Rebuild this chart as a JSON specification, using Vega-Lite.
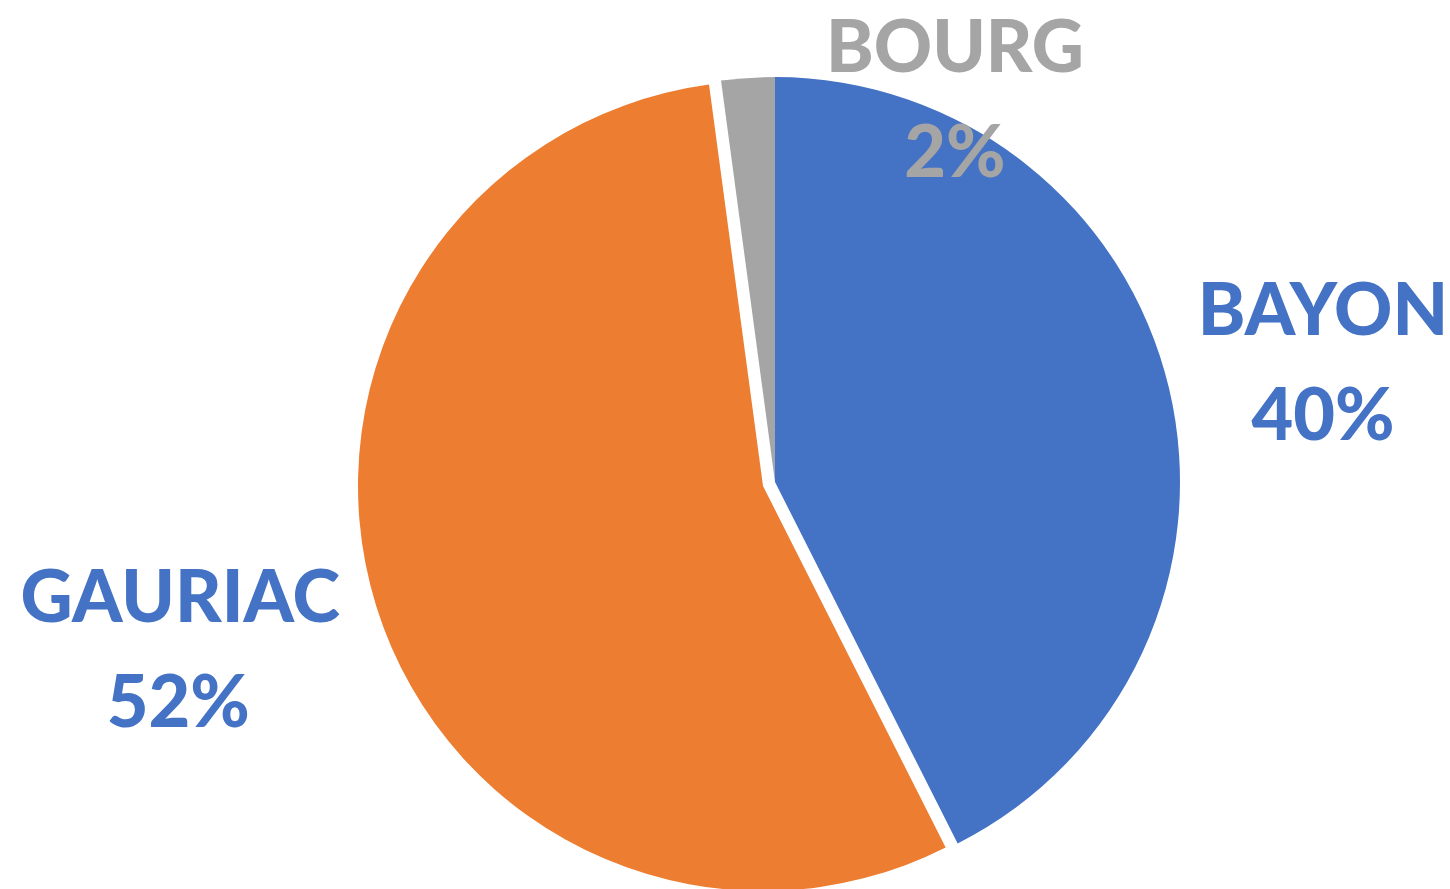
{
  "$schema": "https://vega.github.io/schema/vega-lite/v6.json",
  "width": 1350,
  "height": 810,
  "autosize": {"type": "none"},
  "padding": {"left": 100, "top": 77, "right": 0, "bottom": 2},
  "background": "white",
  "config": {"view": {"stroke": null}},
  "data": {"values": [
    {"name": "BAYON", "value": 40, "pct": "40%"},
    {"name": "GAURIAC", "value": 52, "pct": "52%"},
    {"name": "BOURG", "value": 2, "pct": "2%"}
  ]},
  "encoding": {
    "theta": {"field": "value", "type": "quantitative", "stack": true, "scale": {"range": [-0.13369, 6.1495]}},
    "order": {"field": "value", "type": "quantitative", "sort": "ascending"},
    "detail": {"field": "name", "type": "nominal"}
  },
  "layer": [
    {
      "mark": {"type": "arc", "radius": 405},
      "encoding": {
        "color": {"field": "name", "type": "nominal", "scale": {"domain": ["BAYON", "GAURIAC", "BOURG"], "range": ["#4472C4", "#ED7D31", "#A5A5A5"]}, "legend": null},
        "opacity": {"condition": {"test": "datum.name === 'GAURIAC'", "value": 0}, "value": 1}
      }
    },
    {
      "mark": {"type": "arc", "radius": 405, "xOffset": -12, "yOffset": 4},
      "encoding": {
        "color": {"field": "name", "type": "nominal", "legend": null},
        "opacity": {"condition": {"test": "datum.name === 'GAURIAC'", "value": 1}, "value": 0}
      }
    },
    {
      "mark": {"type": "text", "radius": 405, "dx": 154, "dy": -53, "font": "Lato", "fontWeight": 900, "fontSize": 72, "align": "center", "baseline": "alphabetic"},
      "encoding": {
        "text": {"field": "name"},
        "color": {"value": "#4472C4"},
        "opacity": {"condition": {"test": "datum.name === 'BAYON'", "value": 1}, "value": 0}
      }
    },
    {
      "mark": {"type": "text", "radius": 405, "dx": 154, "dy": 52, "font": "Lato", "fontWeight": 900, "fontSize": 72, "align": "center", "baseline": "alphabetic"},
      "encoding": {
        "text": {"field": "pct"},
        "color": {"value": "#4472C4"},
        "opacity": {"condition": {"test": "datum.name === 'BAYON'", "value": 1}, "value": 0}
      }
    },
    {
      "mark": {"type": "text", "radius": 405, "dx": -208, "dy": 20, "font": "Lato", "fontWeight": 900, "fontSize": 72, "align": "center", "baseline": "alphabetic"},
      "encoding": {
        "text": {"field": "name"},
        "color": {"value": "#4472C4"},
        "opacity": {"condition": {"test": "datum.name === 'GAURIAC'", "value": 1}, "value": 0}
      }
    },
    {
      "mark": {"type": "text", "radius": 405, "dx": -210, "dy": 125, "font": "Lato", "fontWeight": 900, "fontSize": 72, "align": "center", "baseline": "alphabetic"},
      "encoding": {
        "text": {"field": "pct"},
        "color": {"value": "#4472C4"},
        "opacity": {"condition": {"test": "datum.name === 'GAURIAC'", "value": 1}, "value": 0}
      }
    },
    {
      "mark": {"type": "text", "radius": 405, "dx": 207, "dy": -6, "font": "Lato", "fontWeight": 900, "fontSize": 72, "align": "center", "baseline": "alphabetic"},
      "encoding": {
        "text": {"field": "name"},
        "color": {"value": "#A5A5A5"},
        "opacity": {"condition": {"test": "datum.name === 'BOURG'", "value": 1}, "value": 0}
      }
    },
    {
      "mark": {"type": "text", "radius": 405, "dx": 207, "dy": 99, "font": "Lato", "fontWeight": 900, "fontSize": 72, "align": "center", "baseline": "alphabetic"},
      "encoding": {
        "text": {"field": "pct"},
        "color": {"value": "#A5A5A5"},
        "opacity": {"condition": {"test": "datum.name === 'BOURG'", "value": 1}, "value": 0}
      }
    }
  ]
}
